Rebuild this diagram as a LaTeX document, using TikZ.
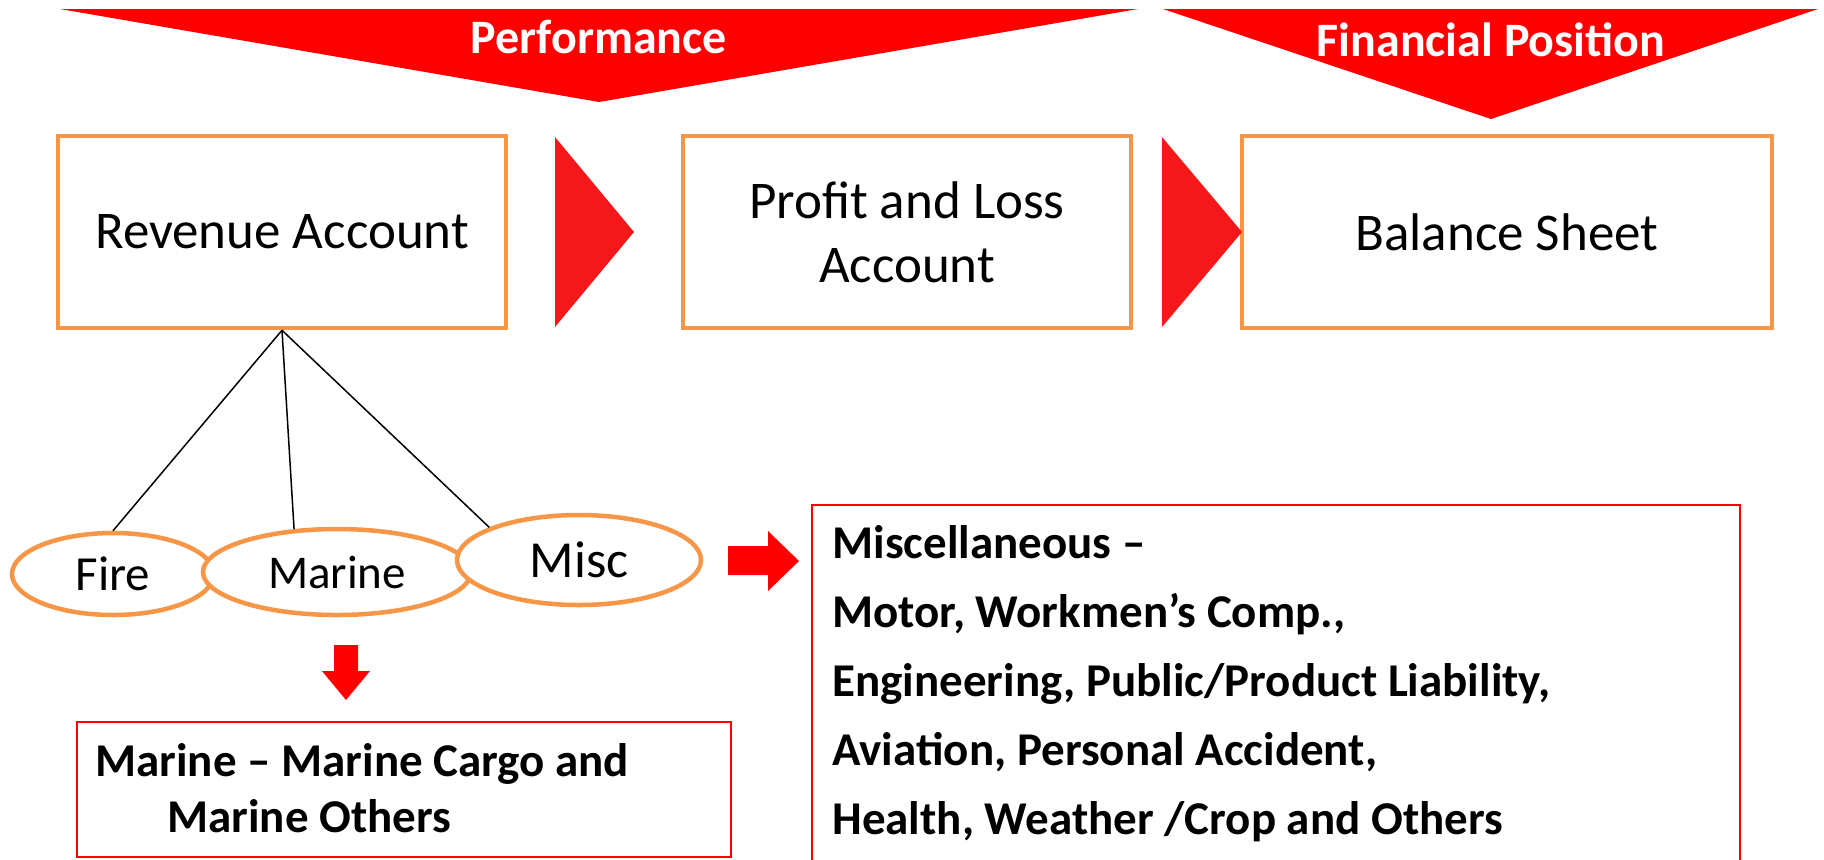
\documentclass[tikz,border=0pt]{standalone}
\usepackage{fontspec}
\setmainfont{Carlito}
\usetikzlibrary{shapes.geometric,positioning}

\definecolor{boxorange}{RGB}{247,150,70}
\definecolor{flowred}{RGB}{244,24,26}

\begin{document}
\begin{tikzpicture}[x=0.5pt,y=-0.5pt,
    account/.style={draw=boxorange, line width=2.25pt, fill=white, minimum height=96pt,
        inner sep=0pt, align=center, font=\fontsize{26.5}{32}\selectfont},
    branch/.style={ellipse, draw=boxorange, line width=2.25pt, fill=white, inner sep=0pt},
    detail/.style={draw=red, line width=1pt, inner sep=0pt},
    detailtext/.style={inner sep=0pt, anchor=base west, align=left,
        font=\fontsize{23.5}{34.5}\selectfont\bfseries},
    banner/.style={text=white, inner sep=0pt, anchor=base, font=\fontsize{24}{28}\selectfont\bfseries}]
    \useasboundingbox (0,0) rectangle (1824,859);
    \clip (0,0) rectangle (1824,859);

    % headline chevrons
    \fill[red] (60,9) -- (1138,9) -- (599,102) -- cycle;
    \fill[red] (1163,9) -- (1818,9) -- (1491,119) -- cycle;
    \node[banner] (perf) at (599,53) {Performance};
    \node[banner] (finpos) at (1491,56) {Financial Position};

    % the three statements
    \node[account, minimum width=224pt] (revenue) at (282,232) {Revenue Account};
    \node[account, minimum width=224pt] (pl) at (907,232) {Profit and Loss\\Account};
    \node[account, minimum width=265pt] (balance) at (1507,232) {Balance Sheet};
    \fill[flowred] (555,137) -- (634,232) -- (555,327) -- cycle;
    \fill[flowred] (1162,137) -- (1242,232) -- (1162,327) -- cycle;

    % classes of business
    \node[branch, minimum width=101pt, minimum height=41pt, font=\fontsize{24.5}{28}\selectfont] (fire) at (113,574) {Fire};
    \node[branch, minimum width=134pt, minimum height=43pt, font=\fontsize{23.5}{28}\selectfont] (marine) at (337,572) {Marine};
    \node[branch, minimum width=122pt, minimum height=45pt, font=\fontsize{26}{30}\selectfont] (misc) at (579,560) {Misc};

    \draw[line width=0.75pt] (revenue.south) -- (fire.north);
    \draw[line width=0.75pt] (revenue.south) -- (marine.135);
    \draw[line width=0.75pt] (revenue.south) -- (misc.160);

    % block arrows
    \fill[red] (334,645) -- (358,645) -- (358,671) -- (370,671) -- (346,700) -- (322,671) -- (334,671) -- cycle;
    \fill[red] (728,546) -- (768,546) -- (768,531) -- (799,561) -- (768,591) -- (768,575) -- (728,575) -- cycle;

    % details (base of a multi-line node is its last line)
    \node[detail, minimum width=327pt, minimum height=67.5pt, anchor=north west] (marinebox) at (76,721) {};
    \node[detailtext] (marinetop) at (95,776) {Marine – Marine Cargo and};
    \node[detailtext] (marinebot) at (167,832) {Marine Others};

    \node[detail, minimum width=464pt, minimum height=200pt, anchor=north west] (miscbox) at (811,504) {};
    \node[detailtext] (misctext) at (832,834) {Miscellaneous –\\Motor, Workmen’s Comp.,\\Engineering, Public/Product Liability,\\Aviation, Personal Accident,\\Health, Weather /Crop and Others};
\end{tikzpicture}
\end{document}
